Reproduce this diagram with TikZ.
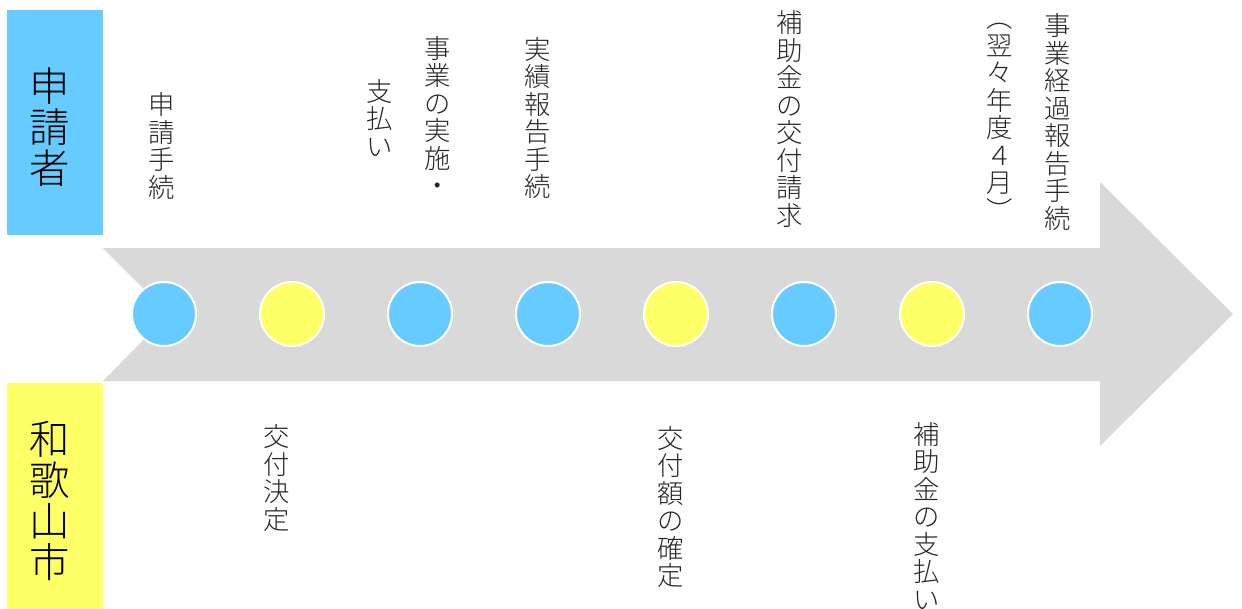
\documentclass[tikz,border=0pt]{standalone}
\usepackage{fontspec}
\newfontfamily\jpfont{Noto Sans CJK JP Light}
\usetikzlibrary{calc}
\definecolor{applyblue}{HTML}{66CCFF}
\definecolor{cityyellow}{HTML}{FFFF66}
\definecolor{flowgray}{HTML}{D9D9D9}
\tikzset{
	dot/.style={circle, draw=white, line width=0.4mm, minimum size=1.28cm, inner sep=0},
	vtext/.style={align=center, inner sep=0, text=black!85, font=\jpfont\fontsize{15}{15.65}\selectfont},
	vbig/.style={align=center, inner sep=0, text=black, font=\jpfont\fontsize{23}{23.3}\selectfont}
}

\begin{document}
\begin{tikzpicture}[x=0.02cm, y=-0.02cm]
			%%%%% START %%%%%
			\useasboundingbox (0, 0) rectangle (1242, 609);
			
			\fill[applyblue] (7, 10) rectangle (103, 235);
			\fill[cityyellow] (7, 383) rectangle (103, 609);
			\node[vbig] (applicant) at (50, 127) {申\\請\\者};
			\node[vbig] (city) at (50, 501) {和\\歌\\山\\市};
			
			\fill[flowgray] (103, 248) -- (1100, 248) -- (1100, 182) -- (1233, 314)
				-- (1100, 446) -- (1100, 381) -- (103, 381) -- (169, 314) -- cycle;
			
			\node[dot, fill=applyblue] (c1) at (164, 314) {};
			\node[dot, fill=cityyellow] (c2) at (292, 314) {};
			\node[dot, fill=applyblue] (c3) at (420, 314) {};
			\node[dot, fill=applyblue] (c4) at (548, 314) {};
			\node[dot, fill=cityyellow] (c5) at (676, 314) {};
			\node[dot, fill=applyblue] (c6) at (804, 314) {};
			\node[dot, fill=cityyellow] (c7) at (932, 314) {};
			\node[dot, fill=applyblue] (c8) at (1060, 314) {};
			
			\node[vtext] (apply) at (162, 146) {申\\請\\手\\続};
			\node[vtext] (work) at (438, 116) {事\\業\\の\\実\\施\\・};
			\node[vtext] (pay) at (380, 118) {支\\払\\い};
			\node[vtext] (report) at (538, 118) {実\\績\\報\\告\\手\\続};
			\node[vtext] (claim) at (790, 119) {補\\助\\金\\の\\交\\付\\請\\求};
			\node[vtext] (progress) at (1058, 122) {事\\業\\経\\過\\報\\告\\手\\続};
			\node[vtext] (april) at (1000, 122) {︵\\翌\\々\\年\\度\\４\\月\\︶};
			
			\node[vtext] (decide) at (277, 478) {交\\付\\決\\定};
			\node[vtext] (fix) at (671, 507) {交\\付\\額\\の\\確\\定};
			\node[vtext] (grant) at (927, 516) {補\\助\\金\\の\\支\\払\\い};
			%%%%% END %%%%%
\end{tikzpicture}
\end{document}
